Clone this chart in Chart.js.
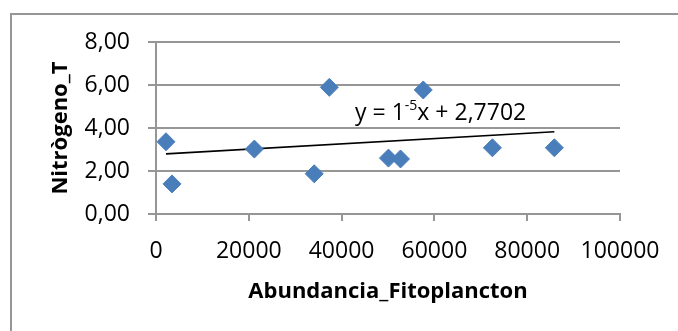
<!DOCTYPE html>
<html>
<head>
<meta charset="utf-8">
<script src="https://cdn.jsdelivr.net/npm/chart.js@4"></script>
<style>
    html, body { margin: 0; padding: 0; background: #fff; }
    #wrap { position: relative; width: 678px; height: 331px; overflow: hidden; }
    #frame { position: absolute; left: 10px; top: 13px; width: 720px; height: 400px; border: 2px solid #969696; }
    canvas { position: absolute; left: 0; top: 0; }
</style>
</head>
<body>
<div id="wrap">
    <div id="frame"></div>
    <canvas id="scatterChart" width="678" height="331"></canvas>
</div>
<script>
// Values
const abundancia = [2150, 3450, 21200, 34100, 37350, 50100, 52700, 57600, 72500, 85850];
const nitrogeno = [3.36, 1.40, 3.02, 1.87, 5.89, 2.60, 2.56, 5.77, 3.08, 3.08];

const xTicks = [0, 20000, 40000, 60000, 80000, 100000];
const yTicks = [0, 2, 4, 6, 8];

// Linear trendline shown in the chart
const trendIntercept = 2.7702;
const trendSlope = 1.23e-5;
const equationParts = ['y = 1', '-5', 'x + 2,7702'];
const equationAt = [42900, 4.37];

const gridGray = '#969696';
const markerBlue = '#4a7ebb';

Chart.defaults.font.family = '"Open Sans", sans-serif';
Chart.defaults.color = '#000';

const xMin = Math.min(...abundancia);
const xMax = Math.max(...abundancia);
const trendPoints = [xMin, xMax].map(x => ({ x: x, y: trendIntercept + trendSlope * x }));

// Draws the trendline equation next to the line
const equationPlugin = {
    id: 'equation',
    afterDatasetsDraw(chart) {
        const { ctx, scales } = chart;
        let px = scales.x.getPixelForValue(equationAt[0]);
        const py = scales.y.getPixelForValue(equationAt[1]);
        ctx.save();
        ctx.fillStyle = '#000';
        ctx.textBaseline = 'alphabetic';
        ctx.textAlign = 'left';
        ctx.font = '23px "Open Sans"';
        ctx.fillText(equationParts[0], px, py);
        px += ctx.measureText(equationParts[0]).width;
        ctx.font = '14px "Open Sans"';
        ctx.fillText(equationParts[1], px, py - 10);
        px += ctx.measureText(equationParts[1]).width;
        ctx.font = '23px "Open Sans"';
        ctx.fillText(equationParts[2], px, py);
        ctx.restore();
    }
};

new Chart(document.getElementById('scatterChart'), {
    type: 'scatter',
    data: {
        datasets: [{
            label: 'Nitrògeno_T',
            data: abundancia.map((x, i) => ({ x: x, y: nitrogeno[i] })),
            pointStyle: 'rectRot',
            pointRadius: 9,
            pointHoverRadius: 9,
            backgroundColor: markerBlue,
            borderColor: markerBlue,
            borderWidth: 1,
            order: 0
        }, {
            type: 'line',
            label: 'Lineal',
            data: trendPoints,
            borderColor: '#000',
            borderWidth: 1.6,
            pointRadius: 0,
            fill: false,
            order: 1
        }]
    },
    options: {
        responsive: false,
        animation: false,
        layout: {
            padding: { left: 10, top: 42, right: 58, bottom: 20 }
        },
        plugins: {
            legend: { display: false },
            tooltip: { enabled: false }
        },
        scales: {
            x: {
                type: 'linear',
                position: 'bottom',
                min: 0,
                max: 100000,
                afterBuildTicks: scale => { scale.ticks = xTicks.map(v => ({ value: v })); },
                afterFit: scale => { scale.height = 97; },
                ticks: {
                    callback: v => String(v),
                    font: { size: 23 },
                    padding: 17,
                    maxRotation: 0
                },
                grid: {
                    drawOnChartArea: false,
                    drawTicks: true,
                    tickLength: 7,
                    color: gridGray,
                    lineWidth: 2
                },
                border: { color: gridGray, width: 2 },
                title: {
                    display: true,
                    text: 'Abundancia_Fitoplancton',
                    font: { size: 22, weight: 'bold' },
                    padding: { top: 0, bottom: 6 }
                }
            },
            y: {
                type: 'linear',
                min: 0,
                max: 8,
                afterBuildTicks: scale => { scale.ticks = yTicks.map(v => ({ value: v })); },
                afterFit: scale => { scale.width = 146; },
                ticks: {
                    callback: v => v.toFixed(2).replace('.', ','),
                    font: { size: 23 },
                    padding: 18
                },
                grid: {
                    color: gridGray,
                    lineWidth: 2,
                    tickLength: 8
                },
                border: { color: gridGray, width: 2 },
                title: {
                    display: true,
                    text: 'Nitrògeno_T',
                    font: { size: 22, weight: 'bold' },
                    padding: { top: 38, bottom: 0 }
                }
            }
        }
    },
    plugins: [equationPlugin]
});
</script>
</body>
</html>
